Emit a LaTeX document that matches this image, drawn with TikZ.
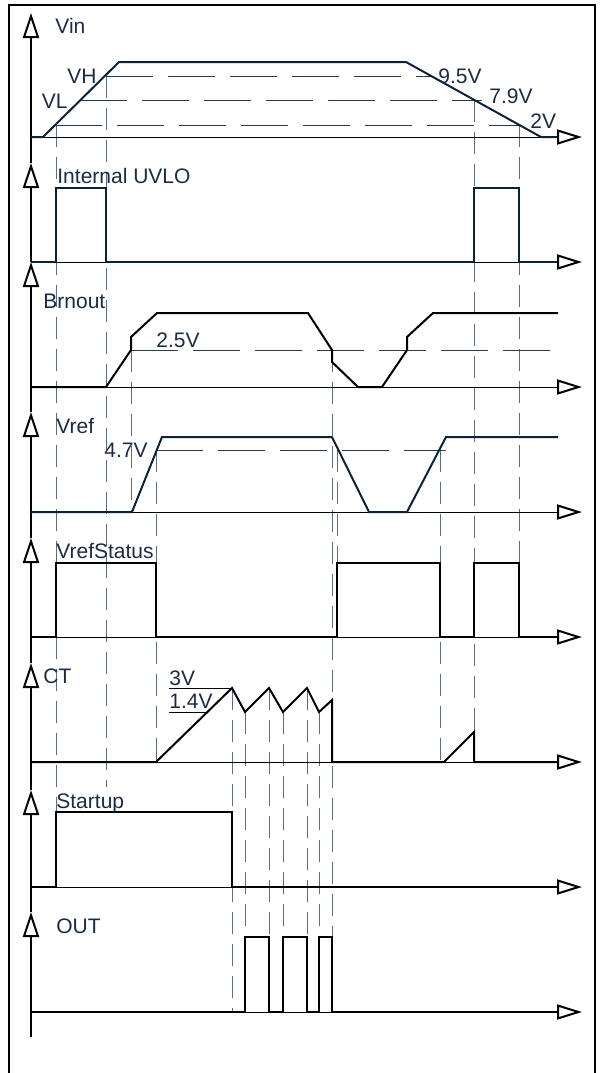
\documentclass[tikz,border=0pt]{standalone}
\usepackage{fontspec}
\setmainfont{Liberation Sans}
\usetikzlibrary{arrows.meta}
\definecolor{navy}{HTML}{0D2138}
\definecolor{labelc}{HTML}{1C2B45}
\definecolor{guide}{HTML}{5C6B80}
\definecolor{levelc}{HTML}{2A3A50}

\begin{document}
\begin{tikzpicture}[x=0.5pt, y=-0.5pt, font=\fontsize{10.5}{12}\selectfont,
    sig/.style={line width=1pt, line join=miter},
    base/.style={line width=0.5pt, -{Triangle[open, length=12.5pt, width=7.5pt, line width=1pt]}},
    yax/.style={line width=1pt, -{Triangle[open, length=12.5pt, width=8pt]}},
    level/.style={line width=0.5pt, levelc, dash pattern=on 23.5pt off 7.5pt},
    guideline/.style={line width=0.45pt, guide, dash pattern=on 11pt off 5pt},
    ref/.style={line width=0.5pt},
    signame/.style={text=labelc, anchor=base west, inner sep=0pt},
    volt/.style={text=labelc, inner sep=0pt}]
  \useasboundingbox (0,0) rectangle (601,1073);
  \draw[line width=1pt] (9,1073) -- (9,5) -- (595,5) -- (595,1073);

  \foreach \x/\a/\b in {56/125/812, 106/76/787, 131/350/512, 156/450/762, 332/350/1012,
      337/450/637, 440/450/762, 474/100/762, 519/125/637, 232/688/1012, 245/712/1012,
      269/688/1012, 283/712/1012, 307/688/1012, 319/712/1012}
    \draw[guideline] (\x,\a) -- (\x,\b);

  \draw[level] (55,125) -- (519,125);
  \draw[level] (80,100) -- (482,100);
  \draw[level] (106,76) -- (431,76);
  \draw[level] (131,350) -- (558,350);
  \draw[level] (156,450) -- (446,450);
  \draw[ref] (169,688) -- (232,688);
  \draw[ref] (169,712) -- (207,712);

  \foreach \b in {137,262,387,512,637,762,887,1012}
    \draw[base] (31,\b) -- (582,\b);
  \foreach \t/\b in {13/163, 163/262, 262/412, 412/538, 538/663, 663/790, 790/912, 912/1037}
    \draw[yax] (31,\b) -- (31,\t);

  \draw[sig, navy] (31,137) -- (43,137) -- (119,62) -- (406,62) -- (541,137) -- (557,137);
  \draw[sig, navy] (31,262) -- (56,262) -- (56,188) -- (106,188) -- (106,262) -- (474,262)
    -- (474,188) -- (519,188) -- (519,262) -- (557,262);
  \draw[sig] (31,387) -- (106,387) -- (131,350) -- (131,337) -- (157,313) -- (308,313)
    -- (332,350) -- (332,362) -- (358,387) -- (382,387) -- (407,350) -- (407,337)
    -- (433,313) -- (558,313);
  \draw[sig, navy] (31,512) -- (132,512) -- (162,437) -- (332,437) -- (369,512)
    -- (407,512) -- (446,437) -- (558,437);
  \draw[sig] (31,637) -- (56,637) -- (56,563) -- (156,563) -- (156,637) -- (337,637)
    -- (337,563) -- (440,563) -- (440,637) -- (474,637) -- (474,563) -- (519,563)
    -- (519,637) -- (557,637);
  \draw[sig] (31,762) -- (156,762) -- (232,688) -- (245,712) -- (269,688) -- (283,712)
    -- (307,688) -- (319,712) -- (332,700) -- (332,762) -- (444,762) -- (474,732)
    -- (474,762) -- (557,762);
  \draw[sig] (31,887) -- (56,887) -- (56,812) -- (232,812) -- (232,887) -- (557,887);
  \draw[sig] (31,1012) -- (245,1012) -- (245,937) -- (269,937) -- (269,1012) -- (283,1012)
    -- (283,937) -- (307,937) -- (307,1012) -- (319,1012) -- (319,937) -- (332,937)
    -- (332,1012) -- (557,1012);

  \node[signame] (vin) at (55,33) {Vin};
  \node[volt, anchor=base east] (vh) at (97,83) {VH};
  \node[volt, anchor=base east] (vl) at (68,108) {VL};
  \node[volt, anchor=base west] (v95) at (438,83) {9.5V};
  \node[volt, anchor=base west] (v79) at (489,103) {7.9V};
  \node[volt, anchor=base west] (v2) at (530,128) {2V};
  \node[signame] (uvlo) at (57,183) {Internal UVLO};
  \node[signame] (brn) at (43,308) {Brnout};
  \node[volt, anchor=base west] (v25) at (156,347) {2.5V};
  \node[signame] (vref) at (56,433) {Vref};
  \node[volt, anchor=base west] (v47) at (104,457) {4.7V};
  \node[signame] (vrs) at (56,558) {VrefStatus};
  \node[signame] (ct) at (43,683) {CT};
  \node[volt, anchor=base west] (v3) at (169,685) {3V};
  \node[volt, anchor=base west] (v14) at (169,708) {1.4V};
  \node[signame] (stu) at (56,808) {Startup};
  \node[signame] (out) at (56,933) {OUT};
\end{tikzpicture}
\end{document}
